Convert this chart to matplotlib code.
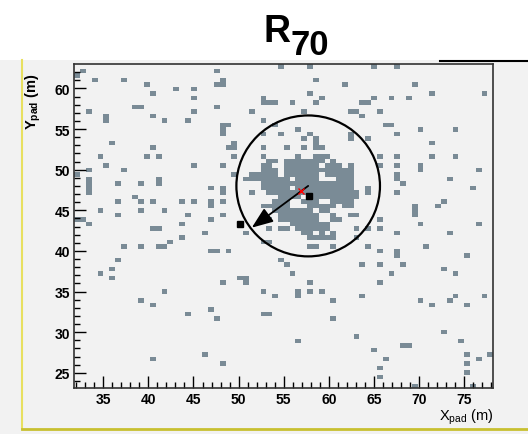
import matplotlib.pyplot as plt
import numpy as np
from matplotlib.colors import ListedColormap
from matplotlib.patches import Ellipse, Rectangle

# scattered hit cells (x, y in m)
hit_x = [32.69, 32.07, 33.98, 37.16, 39.82, 40.40, 43.03, 44.95, 44.95, 47.4, 47.4, 48.1, 48.1,
         38.44, 39.1, 33.35, 35.23, 35.23, 40.40, 41.73, 44.28, 44.95, 47.3,
         35.90, 40.40, 34.61, 39.82, 41.07, 35.23, 44.95, 33.35, 37.16, 32.07,
         33.35, 33.35, 33.35, 33.35, 36.53, 39.15, 41.07, 41.07, 46.83, 38.44, 36.53, 39.15, 40.40,
         43.65, 44.95, 46.83, 46.83, 34.61, 39.15, 41.73, 36.53, 44.28, 43.65, 46.83, 32.43, 33.06,
         33.35, 40.74, 41.40,
         54.66, 57.82, 58.49, 61.74, 57.82, 59.01, 58.49, 52.73, 52.73, 53.4, 54.03, 55.91, 51.40,
         57.24, 62.70, 52.73, 54.03, 48.12, 48.74, 48.12, 54.66, 56.57, 57.24, 57.82, 58.49, 52.73,
         48.12, 62.33, 62.33, 49.41, 48.74, 49.41, 49.41, 52.73, 52.73, 55.32, 57.24, 58.49, 58.49,
         59.15, 59.8, 48.12, 49.41, 46.83, 48.12, 48.12, 51.62, 48.12, 48.12, 46.83, 52.73, 53.4,
         54.66, 55.32, 56.57,
         64.91, 67.50, 69.42, 71.33, 77.17, 63.63, 64.25, 64.91, 66.90, 68.79, 62.99, 63.63, 65.58,
         66.21, 66.84, 67.50, 70.08, 73.96, 64.25, 71.33, 73.96, 71.33, 65.58, 65.58, 67.50, 67.50,
         70.08, 70.08, 76.54, 62.33, 67.50, 67.50, 68.17, 73.33, 62.33, 64.25, 64.25, 62.55, 63.22,
         67.54, 75.92, 62.33, 62.33, 72.71, 72.08, 69.42, 69.42, 69.42, 62.70, 63.22, 65.58, 70.08,
         76.54, 65.58, 64.25, 62.99,
         33.35, 40.40, 41.07, 43.7, 43.7, 46.24, 42.32, 37.16, 39.15, 41.07, 41.73, 46.97, 36.53,
         34.61, 35.90, 35.90, 41.73, 39.15, 40.40, 44.28, 46.83, 47.27, 46.24, 40.40,
         50.70, 47.35, 48.85, 54.66, 55.32, 55.91, 50.15, 50.70, 50.70, 48.12, 52.66, 54.0, 56.57,
         56.57, 57.82, 57.82, 59.15, 60.45, 47.0, 52.66, 53.28, 60.45, 62.77, 56.57, 48.12,
         53.1, 54.69, 55.5, 59.01, 59.01, 59.93, 60.45, 59.01, 52.73, 53.28, 57.9, 58.64, 60.45,
         62.99, 62.99, 64.36, 65.58, 67.54, 70.08, 73.33, 76.54, 64.36, 65.58, 67.54, 67.54, 70.75,
         75.26, 63.63, 65.58, 68.17, 66.90, 72.66, 73.99, 65.58, 63.63, 70.08, 71.33, 73.33, 73.99,
         75.26, 77.17, 72.66, 74.66, 68.17, 68.79, 64.91, 66.24, 75.26, 75.26, 75.26, 76.54, 77.83,
         65.58, 65.58, 69.45, 75.88]
hit_y = [62.17, 61.64, 61.06, 61.06, 60.50, 59.39, 59.92, 59.92, 58.81, 62.17, 60.50, 60.50, 61.06,
         57.70, 57.70, 57.08, 56.38, 55.81, 56.46, 55.89, 55.89, 57.08, 57.66,
         53.05, 52.48, 51.90, 51.37, 51.37, 50.79, 50.79, 50.21, 50.21, 49.15,
         49.13, 48.57, 48.02, 47.46, 48.54, 48.54, 48.82, 48.27, 47.92, 46.72, 46.14, 46.14, 46.14,
         46.14, 46.14, 46.35, 45.74, 45.03, 45.03, 45.03, 44.47, 44.47, 43.31, 43.89, 43.89, 43.89,
         43.31, 42.86, 42.86,
         62.79, 62.79, 61.06, 60.50, 59.39, 58.81, 58.23, 58.81, 58.23, 58.23, 58.23, 58.23, 57.08,
         57.08, 57.08, 55.89, 55.32, 55.32, 55.32, 54.78, 54.21, 54.78, 53.63, 54.21, 53.63, 54.21,
         54.21, 54.21, 53.63, 53.05, 52.48, 52.48, 51.90, 52.48, 51.90, 52.48, 52.48, 53.05, 52.48,
         52.48, 51.90, 50.79, 49.65, 47.99, 47.92, 47.34, 47.34, 46.14, 44.47, 45.61, 45.61, 45.61,
         43.89, 43.89, 44.47,
         62.79, 62.79, 60.50, 59.39, 59.39, 58.23, 58.23, 58.81, 58.81, 58.81, 57.08, 56.46, 57.08,
         55.32, 55.32, 54.21, 54.78, 54.78, 53.63, 53.05, 51.90, 51.37, 51.37, 50.79, 51.37, 50.79,
         50.79, 50.21, 50.21, 50.79, 49.65, 49.07, 48.54, 49.07, 49.07, 47.92, 47.34, 47.34, 47.34,
         47.34, 47.92, 46.14, 45.61, 46.14, 45.61, 45.61, 45.03, 44.47, 44.47, 44.47, 43.89, 43.36,
         43.36, 42.86, 42.86, 42.86,
         43.27, 42.78, 42.78, 43.27, 41.63, 42.20, 41.05, 40.52, 40.52, 40.52, 40.52, 39.94, 38.75,
         36.98, 37.56, 36.45, 35.29, 34.18, 33.62, 32.51, 33.07, 31.93, 27.28, 26.71,
         42.45, 39.98, 39.98, 38.83, 38.13, 36.98, 36.49, 36.49, 35.87, 35.87, 35.29, 34.73, 35.26,
         34.73, 35.87, 35.29, 35.29, 34.15, 33.0, 32.46, 32.46, 31.93, 29.58, 28.97, 26.13,
         42.78, 42.78, 42.78, 42.78, 42.2, 42.86, 42.45, 41.42, 41.21, 41.21, 40.47, 40.47, 40.47,
         42.78, 41.63, 42.78, 42.78, 42.20, 43.27, 42.20, 43.27, 40.52, 39.94, 39.98, 39.36, 40.52,
         39.36, 38.13, 38.13, 38.13, 36.98, 37.56, 36.98, 35.87, 34.73, 34.18, 33.62, 34.18, 34.73,
         33.62, 34.73, 30.20, 28.97, 28.39, 28.39, 27.82, 26.71, 27.28, 26.13, 25.02, 26.71, 27.28,
         25.60, 24.44, 23.26, 23.26]

# dense core around the seed, one string per pad row (top row first), '#' = hit
core_x0, core_y0 = 50.81, 51.64   # centre of the top-left cell of the block
core_rows = [".........#..##.......",
             "....##.#######.#.....",
             "...##..######.###....",
             "...###.############..",
             ".#####.######.#####..",
             "########.####...###..",
             "...################..",
             "...#####.##########..",
             "....##############...",
             "......####..########.",
             ".....###..###..####..",
             "....####...#####.##..",
             ".....#######.##......",
             "......#######..#.....",
             "...##..######..##....",
             "........#######......",
             "......##.####........",
             "..........##.........",
             "...........##.##....."]

seed_x, seed_y = 56.9, 47.4
black_x = [57.82, 50.15]
black_y = [46.76, 43.36]
circle_x, circle_y = 57.7, 48.0
circle_rx, circle_ry = 7.95, 8.67
arrow_tip_x, arrow_tip_y = 51.45, 42.86

x_edges = np.linspace(31.8, 78.2, 73)
y_edges = np.linspace(23.1, 63.0, 73)
dx = x_edges[1] - x_edges[0]
dy = y_edges[1] - y_edges[0]

xs = list(hit_x)
ys = list(hit_y)
for r, row in enumerate(core_rows):
    for c, ch in enumerate(row):
        if ch == '#':
            xs.append(core_x0 + c * dx)
            ys.append(core_y0 - r * dy)

H, _, _ = np.histogram2d(xs, ys, bins=[x_edges, y_edges])
H = np.ma.masked_equal(H, 0)

bg = '#f2f2f2'
fig = plt.figure(figsize=(5.28, 4.35), dpi=100)
fig.patch.set_facecolor(bg)
fig.patches.append(Rectangle((0, 1 - 61 / 435), 1, 61 / 435, transform=fig.transFigure,
                             facecolor='white', edgecolor='none', zorder=0))
ax = fig.add_axes([74.3 / 528, 1 - 389.3 / 435, 419 / 528, 324.3 / 435])
ax.set_facecolor(bg)
ax.pcolormesh(x_edges, y_edges, H.T, cmap=ListedColormap(['#7a8b96']), vmin=0, vmax=10)

ax.add_patch(Ellipse((circle_x, circle_y), 2 * circle_rx, 2 * circle_ry, fill=False,
                     edgecolor='black', lw=1.6, zorder=5))
ax.annotate('', xy=(arrow_tip_x, arrow_tip_y), xytext=(circle_x, circle_y),
            arrowprops=dict(arrowstyle='-|>,head_length=1.3,head_width=0.5', color='black', lw=1.3,
                            shrinkA=0, shrinkB=0), zorder=6)
ax.plot(black_x, black_y, 's', color='black', ms=4, zorder=6)
ax.plot([seed_x], [seed_y], 'x', color='red', ms=4, mew=1, zorder=7)

ax.set_xlim(x_edges[0], x_edges[-1])
ax.set_ylim(y_edges[0], y_edges[-1])
ax.set_xticks(np.arange(35, 80, 5))
ax.set_yticks(np.arange(25, 65, 5))
ax.set_xticks(np.arange(32, 79, 1), minor=True)
ax.set_yticks(np.arange(24, 63, 1), minor=True)
ax.tick_params(which='major', direction='in', length=8.5, width=1, pad=3, labelsize=10)
ax.tick_params(which='minor', direction='in', length=4.3, width=1)
for lab in ax.get_xticklabels() + ax.get_yticklabels():
    lab.set_fontfamily('Liberation Sans')
    lab.set_fontweight('bold')
for s in ax.spines.values():
    s.set_linewidth(1.2)
    s.set_color('#333333')

fig.text(290 / 528, 1 - 42 / 435, 'R', fontsize=27, fontweight='bold', family='Liberation Sans',
         ha='right', va='baseline')
fig.text(290 / 528, 1 - 55 / 435, '70', fontsize=25, fontweight='bold', family='Liberation Sans',
         ha='left', va='baseline')

ax.text(-0.097, 0.975, r'Y$_{\mathregular{pad}}$ (m)', transform=ax.transAxes, rotation=90,
        ha='center', va='top', fontsize=10.5, fontweight='bold', family='Liberation Sans')
ax.text(1.0, -0.055, r'X$_{\mathregular{pad}}$ (m)', transform=ax.transAxes,
        ha='right', va='top', fontsize=10.5, family='Liberation Sans')

fig.add_artist(plt.Line2D([22 / 528, 22 / 528], [1 - 430 / 435, 1 - 61 / 435], color='#e8e060', lw=1.5))
fig.add_artist(plt.Line2D([22 / 528, 1], [1 - 430 / 435, 1 - 430 / 435], color='#c8c030', lw=2))
fig.add_artist(plt.Line2D([440 / 528, 1], [1 - 62 / 435, 1 - 62 / 435], color='black', lw=1.5))

fig.savefig('out.png', dpi=100, facecolor=fig.get_facecolor())
